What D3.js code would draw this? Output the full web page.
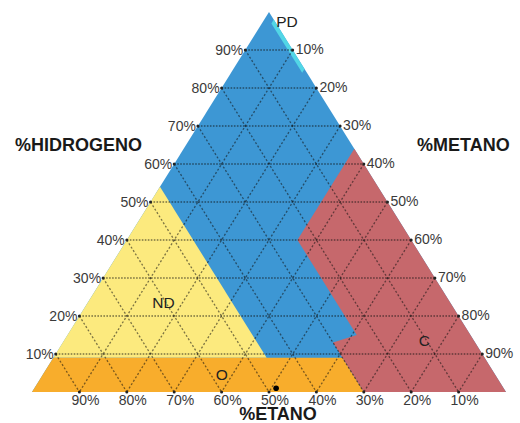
<!DOCTYPE html>
<html>
<head>
<meta charset="utf-8">
<script src="https://cdn.jsdelivr.net/npm/d3@7"></script>
<style>
  body { margin: 0; background: #fff; }
  svg { display: block; font-family: "Liberation Sans", Arial, sans-serif; }
</style>
</head>
<body>
<div id="chart"></div>
<script>
"use strict";

// ternary values are [%H2, %CH4, %C2H6]
var gridLevels = [10, 20, 30, 40, 50, 60, 70, 80, 90];
var hTickLabels = ["10%", "20%", "30%", "40%", "50%", "60%", "70%", "80%", "90%"];
var mTickLabels = ["10%", "20%", "30%", "40%", "50%", "60%", "70%", "80%", "90%"];
var eTickLabels = ["10%", "20%", "30%", "40%", "50%", "60%", "70%", "80%", "90%"];

var zoneNames = ["S", "ND", "O", "C", "PD"];
var zoneColors = ["#3d97d4", "#fcea7e", "#f8ad2c", "#c6686c", "#52d6e6"];
var zonePoints = [
    [[100, 0, 0], [0, 100, 0], [0, 0, 100]],
    [[54, 0, 46], [9, 45, 46], [9, 0, 91]],
    [[9, 0, 91], [9, 61, 30], [0, 70, 30], [0, 0, 100]],
    [[64, 36, 0], [40, 36, 24], [15, 61, 24], [13, 57, 30], [0, 70, 30], [0, 100, 0]],
    [[98, 2, 0], [85, 15, 0], [84, 15, 1.2], [97, 2, 1.2]]
];

var zoneLabels = ["PD", "ND", "O", "C"];
var zoneLabelPoints = [[97.6, 5, -2.6], [23.5, 16, 60.5], [4.7, 37.7, 57.6], [13.5, 76, 10.5]];

var samplePoints = [[1, 51, 48]];

// -----------------------------------------------------------------------
var width = 520;
var height = 423;

var svg = d3.select("#chart").append("svg")
    .attr("width", width)
    .attr("height", height);

// x runs along the base (CH4 to the right), y with H2
var xScale = d3.scaleLinear().domain([0, 100]).range([32, 506]);
var yScale = d3.scaleLinear().domain([0, 100]).range([392, 12]);

function px(p) { return xScale(p[1] + p[0] / 2); }
function py(p) { return yScale(p[0]); }

var line = d3.line()
    .x(function (d) { return px(d); })
    .y(function (d) { return py(d); });

// Zones
svg.append("g").selectAll("path")
    .data(zonePoints)
    .enter().append("path")
    .attr("d", function (d) { return line(d) + "Z"; })
    .attr("fill", function (d, i) { return zoneColors[i]; })
    .attr("stroke", "none");

// Grid
var grid = svg.append("g")
    .attr("fill", "none")
    .attr("stroke", "#111")
    .attr("stroke-opacity", 0.55)
    .attr("stroke-width", 1.3);

grid.selectAll("path.h")
    .data(gridLevels)
    .enter().append("path")
    .attr("class", "h")
    .attr("stroke-dasharray", "1.6,1.4")
    .attr("d", function (v) { return line([[v, 0, 100 - v], [v, 100 - v, 0]]); });

grid.selectAll("path.m")
    .data(gridLevels)
    .enter().append("path")
    .attr("class", "m")
    .attr("stroke-dasharray", "2,2")
    .attr("d", function (v) { return line([[100 - v, v, 0], [0, v, 100 - v]]); });

grid.selectAll("path.e")
    .data(gridLevels)
    .enter().append("path")
    .attr("class", "e")
    .attr("stroke-dasharray", "2,2")
    .attr("d", function (v) { return line([[100 - v, 0, v], [0, 100 - v, v]]); });

// tick dots on the edges
var dots = svg.append("g").attr("fill", "#222");
gridLevels.forEach(function (v) {
    [[v, 0, 100 - v], [100 - v, v, 0], [0, 100 - v, v]].forEach(function (p) {
        dots.append("circle").attr("cx", px(p)).attr("cy", py(p)).attr("r", 1.5);
    });
});

// Tick labels
var ticks = svg.append("g")
    .attr("font-size", 14)
    .attr("fill", "#3a3a3a");

ticks.selectAll("text.hl")
    .data(gridLevels)
    .enter().append("text")
    .attr("text-anchor", "end")
    .attr("x", function (v) { return px([v, 0, 100 - v]) - 2; })
    .attr("y", function (v) { return py([v, 0, 100 - v]) + 5; })
    .text(function (v, i) { return hTickLabels[i]; });

ticks.selectAll("text.ml")
    .data(gridLevels)
    .enter().append("text")
    .attr("text-anchor", "start")
    .attr("x", function (v) { return px([100 - v, v, 0]) + 3; })
    .attr("y", function (v) { return py([100 - v, v, 0]) + 4; })
    .text(function (v, i) { return mTickLabels[i]; });

ticks.selectAll("text.el")
    .data(gridLevels)
    .enter().append("text")
    .attr("text-anchor", "middle")
    .attr("x", function (v) { return px([0, 100 - v, v]) + 6; })
    .attr("y", function (v) { return py([0, 100 - v, v]) + 13; })
    .text(function (v, i) { return eTickLabels[i]; });

// Zone labels
svg.append("g").selectAll("text")
    .data(zoneLabels)
    .enter().append("text")
    .attr("text-anchor", "middle")
    .attr("font-size", 15.5)
    .attr("fill", "#222")
    .attr("x", function (d, i) { return px(zoneLabelPoints[i]); })
    .attr("y", function (d, i) { return py(zoneLabelPoints[i]) + 5.5; })
    .text(function (d) { return d; });

// sample point
svg.append("g").selectAll("circle")
    .data(samplePoints)
    .enter().append("circle")
    .attr("cx", function (d) { return px(d); })
    .attr("cy", function (d) { return py(d); })
    .attr("r", 2.8)
    .attr("fill", "#000");

// Axis titles
var titles = svg.append("g")
    .attr("font-size", 18)
    .attr("font-weight", "bold")
    .attr("fill", "#1a1a1a");

titles.append("text").attr("x", 15).attr("y", 151).text("%HIDROGENO");
titles.append("text").attr("x", 417).attr("y", 151).text("%METANO");
titles.append("text").attr("x", 278).attr("y", 420).attr("text-anchor", "middle").text("%ETANO");
</script>
</body>
</html>
